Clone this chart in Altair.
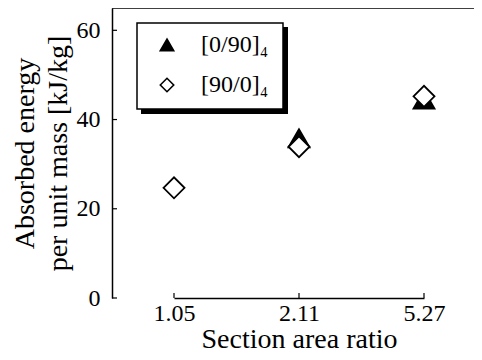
import altair as alt
import pandas as pd

# Data
ratios = ["1.05", "2.11", "5.27"]
series_names = ["[0/90]₄", "[90/0]₄"]
energy_0_90 = [None, 35.8, 44.5]   # filled triangles (hidden behind the diamond at 1.05)
energy_90_0 = [24.7, 33.9, 45.2]   # open diamonds
y_ticks = [0, 20, 40, 60]

FONT = "Liberation Serif"
W, H = 362, 290

rows = []
for name, vals in zip(series_names, [energy_0_90, energy_90_0]):
    for r, v in zip(ratios, vals):
        if v is not None:
            rows.append({"ratio": r, "energy": v, "series": name})
df = pd.DataFrame(rows)

xscale = alt.Scale(type="point", domain=ratios, range=[62, 312], padding=0)
yscale = alt.Scale(domain=[0, 65], nice=False, zero=True)
axis_style = dict(ticks=False, grid=False, domainColor="black", domainWidth=1.5,
                  labelFont=FONT, labelFontSize=24, labelColor="black",
                  titleFont=FONT, titleFontSize=28, titleFontWeight="normal",
                  titleColor="black")
xaxis = alt.Axis(title="Section area ratio", labelAngle=0, labelPadding=3,
                 titleBaseline="alphabetic", titleY=49, **axis_style)
yaxis = alt.Axis(title=["Absorbed energy", "per unit mass [kJ/kg]"],
                 values=y_ticks, labelPadding=12, titlePadding=4,
                 titleLineHeight=33, **axis_style)

leg = dict(title=None, orient="none", legendX=25, legendY=15,
           padding=10, rowPadding=16, symbolOffset=8,
           labelOffset=22, symbolSize=180, symbolStrokeWidth=1.6,
           labelFont=FONT, labelFontSize=24, labelColor="black")

points = alt.Chart(df).mark_point(
    filled=True, stroke="black", strokeWidth=1.8, opacity=1, size=441
).encode(
    x=alt.X("ratio:N", scale=xscale, sort=ratios, axis=xaxis),
    y=alt.Y("energy:Q", scale=yscale, axis=yaxis),
    shape=alt.Shape("series:N", sort=series_names,
                    scale=alt.Scale(domain=series_names, range=["triangle-up", "diamond"]),
                    legend=alt.Legend(**leg)),
    fill=alt.Fill("series:N", sort=series_names,
                  scale=alt.Scale(domain=series_names, range=["black", "white"]),
                  legend=alt.Legend(**leg)),
    order=alt.Order("series:N", sort="ascending"),
)

# legend frame with drop shadow
legend_box = alt.Chart(pd.DataFrame({"box": [1]})).mark_rect(
    fill="white", stroke="black", strokeWidth=1.5
).encode(x=alt.value(25), x2=alt.value(171), y=alt.value(15), y2=alt.value(101))
shadow_right = alt.Chart(pd.DataFrame({"sr": [1]})).mark_rect(color="#000000").encode(
    x=alt.value(171), x2=alt.value(176), y=alt.value(19), y2=alt.value(106)
)
shadow_bottom = alt.Chart(pd.DataFrame({"sb": [1]})).mark_rect(color="#000000").encode(
    x=alt.value(29), x2=alt.value(176), y=alt.value(101), y2=alt.value(106)
)

# top frame line
top_line = alt.Chart(pd.DataFrame({"top": [1]})).mark_rule(color="black", strokeWidth=1.5).encode(
    x=alt.value(0), x2=alt.value(W), y=alt.value(0)
)

# inward ticks
xt = alt.Chart(pd.DataFrame({"ratio": ratios})).mark_rule(color="black", strokeWidth=1.2).encode(
    x=alt.X("ratio:N", scale=xscale, sort=ratios, axis=xaxis),
    y=alt.value(H), y2=alt.value(H - 5),
)
yt = alt.Chart(pd.DataFrame({"energy": y_ticks})).mark_rule(color="black", strokeWidth=1.2).encode(
    y=alt.Y("energy:Q", scale=yscale, axis=yaxis),
    x=alt.value(0), x2=alt.value(5),
)

chart = alt.layer(legend_box, xt, yt, top_line, points, shadow_right, shadow_bottom).properties(
    width=W, height=H, background="white",
    autosize=alt.AutoSizeParams(type="none"),
    padding={"left": 104, "top": 0, "right": 0, "bottom": 54},
).configure_view(stroke=None)

chart.save("out.html", embed_options={"renderer": "svg", "actions": False})
